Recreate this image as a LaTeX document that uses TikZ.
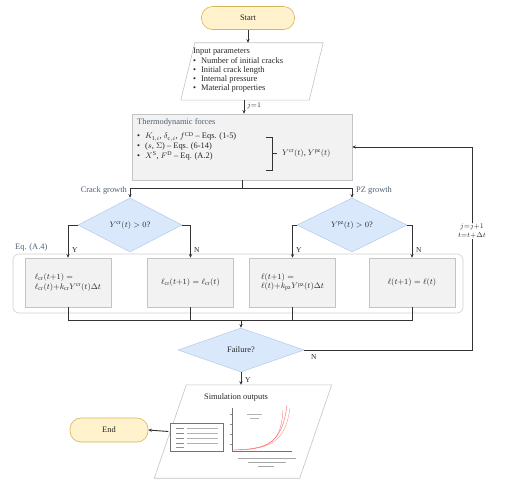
\documentclass[tikz,border=0pt]{standalone}
\usepackage{fontspec}
\setmainfont{Liberation Serif}
\usetikzlibrary{shapes.geometric,arrows.meta,calc}

\definecolor{termfill}{HTML}{FFF2CC}
\definecolor{termdraw}{HTML}{D6B656}
\definecolor{decfill}{HTML}{DAE8FC}
\definecolor{decdraw}{HTML}{B8CFEE}
\definecolor{procfill}{HTML}{F2F2F2}
\definecolor{procdraw}{HTML}{C4C4C4}
\definecolor{labcol}{HTML}{4F5F73}
\definecolor{linecol}{HTML}{333333}

\begin{document}
\begin{tikzpicture}[x=1pt,y=-1pt,
  font=\fontsize{8.4}{9.2}\selectfont,
  every node/.style={text=black!85},
  conn/.style={draw=linecol, line width=0.9pt, -{Stealth[length=3.6pt,width=3.2pt]}},
  plain/.style={draw=linecol, line width=0.9pt},
  term/.style={draw=termdraw, fill=termfill, rounded corners=11pt, line width=0.6pt,
    minimum width=#1, minimum height=23pt, inner sep=0pt},
  decision/.style={diamond, draw=decdraw, fill=decfill, line width=0.6pt, inner sep=0pt,
    minimum width=#1, minimum height=54pt},
  procbox/.style={draw=procdraw, fill=procfill, line width=0.6pt, minimum width=86pt,
    minimum height=49pt, inner sep=2pt},
  ioarea/.style={minimum width=#1, inner sep=0pt},
  iolines/.style={draw=procdraw, fill=white, line width=0.6pt},
  lab/.style={text=labcol, inner sep=1pt},
  yn/.style={text=black!85, inner sep=1pt, font=\fontsize{7.5}{8}\selectfont}
]
\useasboundingbox (0,0) rectangle (522,484);

% ---------- start ----------
\node[term=93pt] (start) at (248,18) {Start};

% ---------- input data (parallelogram) ----------
\node[ioarea=128pt, minimum height=57pt] (inp) at (252,71.5) {};
\draw[iolines] ($(inp.north west)+(7,0)$) -- ($(inp.north east)+(7,0)$)
  -- ($(inp.south east)+(-7,0)$) -- ($(inp.south west)+(-7,0)$) -- cycle;
\node[anchor=north west, inner sep=0pt, align=left] (inptxt) at (193,47)
  {\begin{tabular}{@{}l@{\hspace{5pt}}l@{}}
   \multicolumn{2}{@{}l}{Input parameters}\\[0.5pt]
   \textbullet & Number of initial cracks\\
   \textbullet & Initial crack length\\
   \textbullet & Internal pressure\\
   \textbullet & Material properties
   \end{tabular}};

% ---------- thermodynamic forces ----------
\node[draw=procdraw, fill=procfill, line width=0.6pt, minimum width=220pt,
  minimum height=66pt, inner sep=0pt] (thermo) at (242,147) {};
\node[anchor=north west, inner sep=0pt, text=labcol] (thtitle) at (137,118)
  {Thermodynamic forces};
\node[anchor=north west, inner sep=0pt] (thlist) at (137,132)
  {\begin{tabular}{@{}l@{\hspace{5pt}}l@{}}
   \textbullet & $K_{\mathrm{I},i}$, $\delta_{\mathrm{c},i}$, $f^{\mathrm{CD}}$ -- Eqs. (1-5)\\[0.5pt]
   \textbullet & ($s$, $\Sigma$) -- Eqs. (6-14)\\[0.5pt]
   \textbullet & $X^{\mathrm{S}}$, $F^{\mathrm{D}}$ -- Eq. (A.2)
   \end{tabular}};
\draw[draw=linecol, line width=0.8pt] (266,137) -- (272,137) -- (272,170) -- (266,170);
\draw[draw=linecol, line width=0.8pt] (272,153.5) -- (277,153.5);
\node[anchor=west, inner sep=0pt] (forces) at (282,153.5)
  {$Y^{\mathrm{cr}}(t)$, $Y^{\mathrm{pz}}(t)$};

% ---------- branch split ----------
\coordinate (split) at (242,188);
\coordinate (crk) at (130,188);
\coordinate (pzc) at (352,188);
\node[anchor=east, lab] at (128,190) {Crack growth};
\node[anchor=west, lab] at (355,190) {PZ growth};

% ---------- decisions ----------
\node[decision=104pt] (dcr) at (130,225) {$Y^{\mathrm{cr}}(t) > 0$?};
\node[decision=110pt] (dpz) at (352,225) {$Y^{\mathrm{pz}}(t) > 0$?};

% ---------- update group ----------
\draw[draw=procdraw!80, line width=0.6pt, rounded corners=6pt] (13,254) rectangle (463,313);
\node[anchor=south west, lab] at (14,252) {Eq. (A.4)};

\node[procbox, align=left] (b1) at (68,282.5)
  {$\ell_{\mathrm{cr}}(t{+}1) =$\\ $\ell_{\mathrm{cr}}(t){+}k_{\mathrm{cr}}Y^{\mathrm{cr}}(t)\Delta t$};
\node[procbox] (b2) at (190.5,282.5) {$\ell_{\mathrm{cr}}(t{+}1) = \ell_{\mathrm{cr}}(t)$};
\node[procbox, align=left] (b3) at (292.5,282.5)
  {$\ell(t{+}1) =$\\ $\ell(t){+}k_{\mathrm{pz}}Y^{\mathrm{pz}}(t)\Delta t$};
\node[procbox] (b4) at (412,282.5) {$\ell(t{+}1) = \ell(t)$};

% ---------- failure check ----------
\node[decision=126pt, minimum height=44pt] (fail) at (241,350) {Failure?};
\coordinate (merge) at (241,320);
\coordinate (loopA) at (472,350);

% ---------- outputs (parallelogram) ----------
\node[ioarea=145pt, minimum height=93pt] (outp) at (243,431.5) {};
\draw[iolines] ($(outp.north west)+(16,0)$) -- ($(outp.north east)+(16,0)$)
  -- ($(outp.south east)+(-16,0)$) -- ($(outp.south west)+(-16,0)$) -- cycle;
\node[inner sep=0pt] (outtitle) at (236,397) {Simulation outputs};

% small result figure inside the outputs block
\begin{scope}[line width=0.35pt]
  \draw[black!55, fill=white] (170,423) rectangle (223,451);
  \foreach \yy in {428,433,438,443} {
    \draw[black!45] (176,\yy) -- (184,\yy);
    \draw[black!30] (187,\yy) -- (218,\yy);
  }
  \draw[red!60] (176,447) -- (184,447);
  \draw[black!55] (232,408) -- (232,451) -- (292,451);
  \foreach \yy in {414,424,434,444} \draw[black!45] (230,\yy) -- (232,\yy);
  \draw[black!30] (247,414) -- (262,414);
  \draw[black!30] (250,418) -- (259,418);
  \draw[red!65] (232,450) .. controls (265,449) and (282,446) .. (287,405);
  \draw[red!45] (236,450) .. controls (268,449) and (285,444) .. (290,408);
  \draw[red!55] (240,450) .. controls (272,448) and (281,440) .. (283,410);
  \draw[black!35] (238,458) -- (296,458);
  \draw[black!35] (248,462) -- (286,462);
  \draw[black!35] (258,466) -- (274,466);
\end{scope}

% ---------- end ----------
\node[term=78pt, minimum height=24pt] (stop) at (109,430) {End};

% ---------- connectors ----------
\draw[conn] (start.south) -- (start.south |- inp.north);
\draw[conn] (inp.south -| thermo.north) ++(2,0) coordinate (ia) (ia) -- (ia |- thermo.north);
\node[anchor=west, yn] at (246,106) {$j{=}1$};

\draw[plain] (thermo.south -| split) -- (split);
\draw[plain] (crk) -- (pzc);
\draw[conn] (crk) -- (dcr.north);
\draw[conn] (pzc) -- (dpz.north);

\draw[conn] (dcr.west) -| (b1.north);
\draw[conn] (dcr.east) -| (b2.north);
\draw[conn] (dpz.west) -| (b3.north);
\draw[conn] (dpz.east) -| (b4.north);
\node[yn, anchor=west] at (71,250) {Y};
\node[yn, anchor=west] at (193,250) {N};
\node[yn, anchor=west] at (295,250) {Y};
\node[yn, anchor=west] at (415,250) {N};

\draw[plain] (b1.south) -- (b1.south |- merge) -- (b4.south |- merge) -- (b4.south);
\draw[plain] (b2.south) -- (b2.south |- merge);
\draw[plain] (b3.south) -- (b3.south |- merge);
\draw[conn] (merge) -- (fail.north);

\draw[conn] (fail.east) -- (loopA) |- (thermo.east);
\node[yn, anchor=north west] at (310,353) {N};
\node[fill=white, inner sep=1pt, align=center, font=\fontsize{7}{8.5}\selectfont] at (472,231)
  {$j{=}j{+}1$\\ $t{=}t{+}\Delta t$};

\draw[conn] (fail.south) -- (fail.south |- outp.north);
\node[yn, anchor=west] at (244,380) {Y};

\draw[conn] ($(outp.west)+(-2,0)$) coordinate (ob) (ob) -- (stop.east);
\end{tikzpicture}
\end{document}
